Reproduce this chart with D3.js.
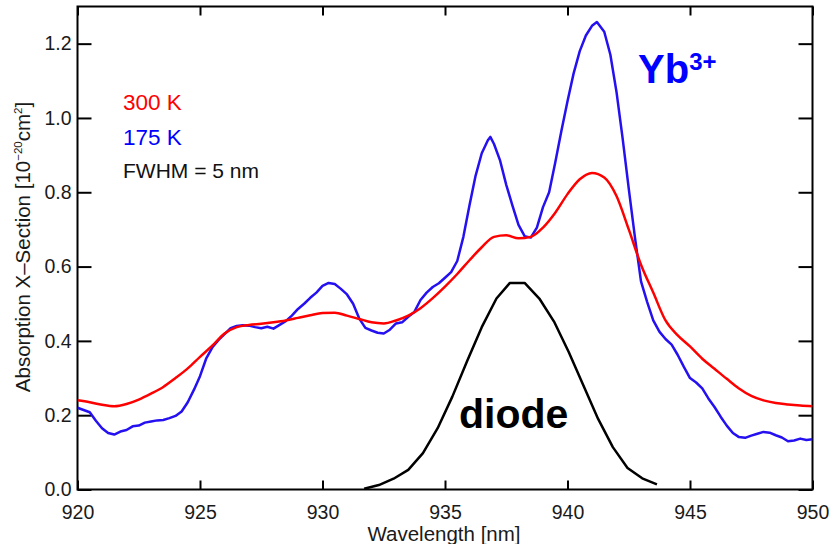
<!DOCTYPE html>
<html>
<head>
<meta charset="utf-8">
<script src="https://cdn.jsdelivr.net/npm/d3@7"></script>
<style>
  html, body { margin: 0; padding: 0; background: #fff; }
  svg { display: block; font-family: "Liberation Sans", Arial, Helvetica, sans-serif; }
</style>
</head>
<body>
<svg id="chart" width="830" height="544"></svg>
<script>
// Yb3+ absorption cross-section at two temperatures, with the pump diode line

const wavelength300 = [920,920.5,921,921.5,922,922.5,923,923.5,924,924.5,925,925.5,926,926.5,927,927.5,928,928.5,929,929.5,930,930.5,931,931.5,932,932.5,933,933.5,934,934.5,935,935.5,936,936.5,937,937.5,938,938.5,939,939.5,940,940.5,941,941.5,942,942.5,943,943.5,944,944.5,945,945.5,946,946.5,947,947.5,948,948.5,949,949.5,950];
const sigma300 = [0.240,0.235,0.228,0.224,0.230,0.242,0.258,0.276,0.300,0.326,0.357,0.387,0.420,0.437,0.443,0.446,0.450,0.455,0.462,0.469,0.475,0.476,0.468,0.459,0.450,0.447,0.455,0.468,0.488,0.515,0.546,0.580,0.617,0.652,0.680,0.684,0.676,0.680,0.705,0.745,0.795,0.835,0.852,0.840,0.790,0.700,0.605,0.530,0.455,0.415,0.385,0.352,0.325,0.298,0.272,0.252,0.240,0.233,0.229,0.226,0.224];

const wavelength175 = [920,920.25,920.5,920.75,921,921.25,921.5,921.75,922,922.25,922.5,922.75,923,923.25,923.5,923.75,924,924.25,924.5,924.75,925,925.25,925.5,925.75,926,926.25,926.5,926.75,927,927.25,927.5,927.75,928,928.25,928.5,928.75,929,929.25,929.5,929.75,930,930.25,930.5,930.75,931,931.25,931.5,931.75,932,932.25,932.5,932.75,933,933.25,933.5,933.75,934,934.25,934.5,934.75,935,935.25,935.5,935.75,936,936.25,936.5,936.75,936.85,937,937.25,937.5,937.75,938,938.25,938.5,938.75,939,939.25,939.5,939.75,940,940.25,940.5,940.75,941,941.2,941.5,941.75,942,942.25,942.5,942.75,943,943.25,943.5,943.75,944,944.25,944.5,944.75,945,945.25,945.5,945.75,946,946.25,946.5,946.75,947,947.25,947.5,947.75,948,948.25,948.5,948.75,949,949.25,949.5,949.75,950];
const sigma175 = [0.220,0.214,0.208,0.185,0.165,0.152,0.148,0.156,0.160,0.170,0.172,0.180,0.183,0.186,0.187,0.192,0.198,0.210,0.235,0.268,0.305,0.352,0.382,0.402,0.418,0.434,0.440,0.442,0.441,0.437,0.434,0.438,0.433,0.443,0.453,0.468,0.486,0.500,0.516,0.530,0.548,0.556,0.553,0.540,0.525,0.500,0.460,0.435,0.428,0.422,0.420,0.430,0.447,0.450,0.465,0.478,0.510,0.530,0.545,0.555,0.570,0.585,0.615,0.680,0.765,0.845,0.905,0.940,0.949,0.930,0.885,0.820,0.765,0.712,0.682,0.678,0.705,0.760,0.800,0.880,0.965,1.045,1.120,1.180,1.222,1.248,1.258,1.232,1.170,1.070,0.945,0.810,0.680,0.560,0.505,0.455,0.425,0.405,0.390,0.362,0.330,0.300,0.288,0.272,0.245,0.222,0.196,0.172,0.152,0.141,0.139,0.145,0.150,0.155,0.153,0.146,0.140,0.130,0.132,0.137,0.133,0.135];

const wavelengthDiode = [931.7,932.3,932.9,933.5,934.1,934.7,935.3,935.9,936.5,937.1,937.65,938.25,938.85,939.45,940.05,940.65,941.25,941.85,942.45,943.05,943.65];
const diode = [0.002,0.012,0.029,0.053,0.098,0.165,0.250,0.345,0.437,0.514,0.556,0.556,0.514,0.452,0.370,0.280,0.190,0.114,0.058,0.030,0.014];

const xTicks = [920, 925, 930, 935, 940, 945, 950];
const yTicks = [0.0, 0.2, 0.4, 0.6, 0.8, 1.0, 1.2];

const legendLabels = ["300 K", "175 K", "FWHM = 5 nm"];

const plotLeft = 77.5, plotRight = 812.5, plotTop = 6.5, plotBottom = 489.5;
const svg = d3.select("#chart");

const x = d3.scaleLinear().domain([920, 950]).range([plotLeft, plotRight]);
const y = d3.scaleLinear().domain([0, 1.3]).range([plotBottom, plotTop]);

const RED = "#ff0000", BLUE = "#2410f0", TEXT_BLUE = "#0000ff";

// Axes with inward ticks on all four sides
const gx = svg.append("g").attr("transform", `translate(0,${plotBottom})`)
  .call(d3.axisBottom(x).tickValues(xTicks).tickFormat(d3.format("d")).tickSize(-9).tickPadding(15.5));
const gxt = svg.append("g").attr("transform", `translate(0,${plotTop})`)
  .call(d3.axisTop(x).tickValues(xTicks).tickFormat("").tickSize(-9));
const gy = svg.append("g").attr("transform", `translate(${plotLeft},0)`)
  .call(d3.axisLeft(y).tickValues(yTicks).tickFormat(d3.format(".1f")).tickSize(-14).tickPadding(6));
const gyr = svg.append("g").attr("transform", `translate(${plotRight},0)`)
  .call(d3.axisRight(y).tickValues(yTicks).tickFormat("").tickSize(-14));

[gx, gxt, gy, gyr].forEach(g => {
  g.select(".domain").remove();
  g.selectAll(".tick line").attr("stroke", "#000").attr("stroke-width", 2);
  g.selectAll(".tick text").attr("fill", "#1a1a1a").style("font-size", "19.5px")
    .style("font-family", "'Liberation Sans', Arial, sans-serif");
});

// Frame
svg.append("rect")
  .attr("x", plotLeft).attr("y", plotTop)
  .attr("width", plotRight - plotLeft).attr("height", plotBottom - plotTop)
  .attr("fill", "none").attr("stroke", "#000").attr("stroke-width", 2);

// Curves
svg.append("clipPath").attr("id", "plot-clip")
  .append("rect").attr("x", plotLeft).attr("y", plotTop)
  .attr("width", plotRight - plotLeft).attr("height", plotBottom - plotTop);

const smooth = d3.line().x(d => x(d[0])).y(d => y(d[1])).curve(d3.curveMonotoneX);
const straight = d3.line().x(d => x(d[0])).y(d => y(d[1])).curve(d3.curveLinear);

const curves = svg.append("g").attr("clip-path", "url(#plot-clip)");

curves.append("path")
  .datum(d3.zip(wavelengthDiode, diode))
  .attr("d", straight)
  .attr("fill", "none").attr("stroke", "#000").attr("stroke-width", 2.5)
  .attr("stroke-linejoin", "round");

curves.append("path")
  .datum(d3.zip(wavelength175, sigma175))
  .attr("d", straight)
  .attr("fill", "none").attr("stroke", BLUE).attr("stroke-width", 2.5)
  .attr("stroke-linejoin", "round");

curves.append("path")
  .datum(d3.zip(wavelength300, sigma300))
  .attr("d", smooth)
  .attr("fill", "none").attr("stroke", RED).attr("stroke-width", 2.5)
  .attr("stroke-linejoin", "round");

// Axis titles
svg.append("text")
  .attr("x", 444).attr("y", 541)
  .attr("text-anchor", "middle").attr("fill", "#1a1a1a")
  .style("font-size", "20.5px")
  .text("Wavelength [nm]");

const yTitle = svg.append("text")
  .attr("transform", "translate(30,247) rotate(-90)")
  .attr("text-anchor", "middle").attr("fill", "#1a1a1a")
  .style("font-size", "20.5px");
yTitle.append("tspan").text("Absorption X\u2013Section [10");
yTitle.append("tspan").attr("dy", -8).style("font-size", "11.5px").text("\u221220");
yTitle.append("tspan").attr("dy", 8).text("cm");
yTitle.append("tspan").attr("dy", -8).style("font-size", "11.5px").text("2");
yTitle.append("tspan").attr("dy", 8).text("]");

// Legend text
const legendColors = [RED, TEXT_BLUE, "#111"];
const legendY = [110, 145, 178];
legendLabels.forEach((t, i) => {
  svg.append("text")
    .attr("x", 123).attr("y", legendY[i])
    .attr("fill", legendColors[i])
    .style("font-size", i < 2 ? "22.5px" : "21px")
    .text(t);
});

// Annotations
const yb = svg.append("text").attr("x", 638).attr("y", 83)
  .attr("fill", TEXT_BLUE).style("font-weight", "bold").style("font-size", "40px");
yb.append("tspan").text("Yb");
yb.append("tspan").attr("dy", -13).style("font-size", "24px").text("3+");

svg.append("text").attr("x", 459).attr("y", 428)
  .attr("fill", "#000").style("font-weight", "bold").style("font-size", "41px")
  .text("diode");
</script>
</body>
</html>
